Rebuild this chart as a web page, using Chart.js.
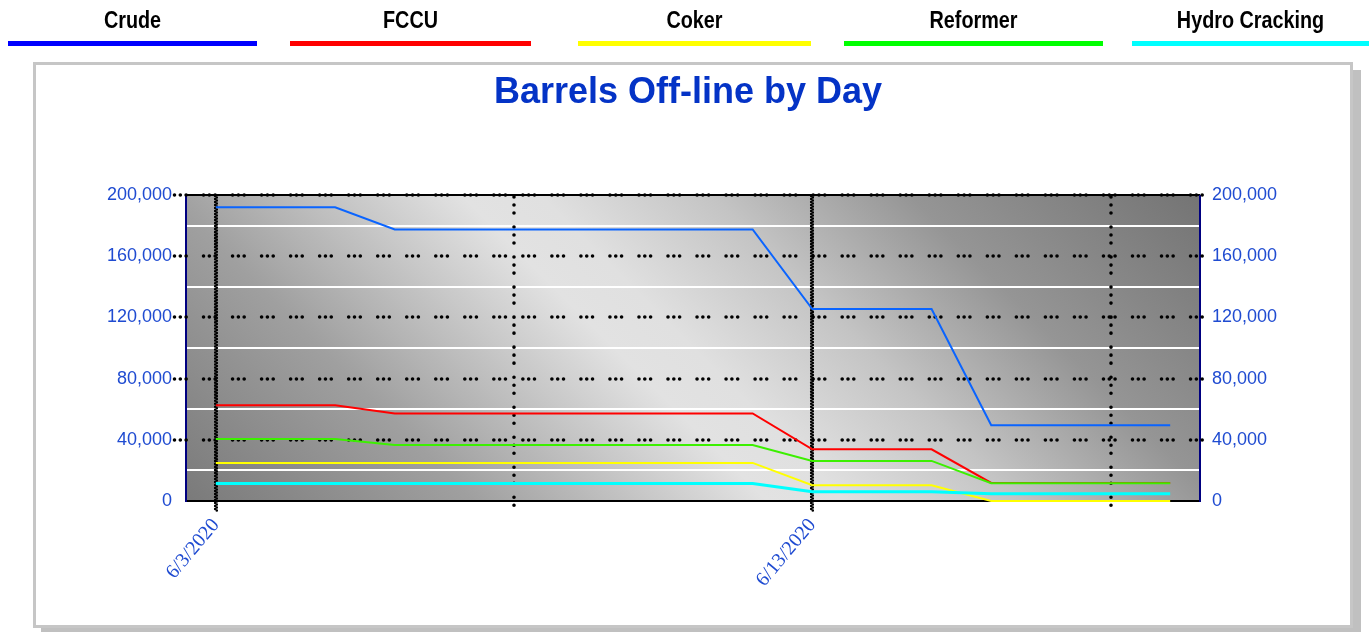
<!DOCTYPE html>
<html>
<head>
<meta charset="utf-8">
<script src="https://cdn.jsdelivr.net/npm/chart.js@4.4.0/dist/chart.umd.min.js"></script>
<style>
  html, body { margin: 0; padding: 0; background: #fff; }
  canvas { display: block; }
</style>
</head>
<body>
<canvas id="chart" width="1369" height="632"></canvas>
<script>
// data
const days = ['6/3/2020', '6/4/2020', '6/5/2020', '6/6/2020', '6/7/2020', '6/8/2020', '6/9/2020',
  '6/10/2020', '6/11/2020', '6/12/2020', '6/13/2020', '6/14/2020', '6/15/2020', '6/16/2020',
  '6/17/2020', '6/18/2020', '6/19/2020'];
const crude    = [192000, 192000, 192000, 177500, 177500, 177500, 177500, 177500, 177500, 177500, 125500, 125500, 125500, 49500, 49500, 49500, 49500];
const fccu     = [62600, 62600, 62600, 57200, 57200, 57200, 57200, 57200, 57200, 57200, 33800, 33800, 33800, 11800, 11800, 11800, 11800];
const coker    = [24900, 24900, 24900, 24900, 24900, 24900, 24900, 24900, 24900, 24900, 10300, 10300, 10300, 0, 0, 0, 0];
const reformer = [40600, 40600, 40600, 36600, 36600, 36600, 36600, 36600, 36600, 36600, 26200, 26200, 26200, 11600, 11600, 11600, 11600];
const hydro    = [11400, 11400, 11400, 11400, 11400, 11400, 11400, 11400, 11400, 11400, 6100, 6100, 6100, 4800, 4800, 4800, 4800];

const seriesNames = ['Crude', 'FCCU', 'Coker', 'Reformer', 'Hydro Cracking'];
const yMax = 200000;
const yStep = 20000;
const yLabelStep = 40000;
const chartTitle = 'Barrels Off-line by Day';

const BLUE_TEXT = '#1f4bd1';
const legendColors = ['#0000ff', '#ff0000', '#ffff00', '#00ff00', '#00ffff'];
const lineColors = ['#0a64ff', '#ff0000', '#ffff00', '#3cf000', '#00ffff'];
const lineWidths = [2, 2, 2, 2, 3];
// legend strip spans under each label
const legendSpans = [[8, 257], [290, 531], [578, 811], [844, 1103], [1132, 1369]];

function fmt(v) {
  return v.toLocaleString('en-US');
}

function dotLine(ctx, x0, y0, x1, y1, dash, width) {
  ctx.save();
  ctx.beginPath();
  ctx.setLineDash(dash);
  ctx.lineCap = 'round';
  ctx.lineWidth = width;
  ctx.strokeStyle = '#000';
  ctx.moveTo(x0, y0);
  ctx.lineTo(x1, y1);
  ctx.stroke();
  ctx.restore();
}

const framePlugin = {
  id: 'frame',
  beforeDraw(chart) {
    const ctx = chart.ctx;
    const a = chart.chartArea;
    ctx.save();
    // shadow + box
    ctx.fillStyle = '#c0c0c0';
    ctx.fillRect(41, 70, 1320, 566);
    ctx.fillStyle = '#fff';
    ctx.fillRect(33, 62, 1320, 566);
    ctx.strokeStyle = '#c6c6c6';
    ctx.lineWidth = 3;
    ctx.strokeRect(34.5, 63.5, 1317, 563);

    // legend
    chart.data.datasets.forEach((ds, i) => {
      const [x0, x1] = legendSpans[i];
      ctx.fillStyle = legendColors[i];
      ctx.fillRect(x0, 41, x1 - x0, 5);
      ctx.save();
      ctx.translate((x0 + x1) / 2, 28);
      ctx.scale(0.86, 1);
      ctx.fillStyle = '#000';
      ctx.font = 'bold 23px "Liberation Sans", Arial, sans-serif';
      ctx.textAlign = 'center';
      ctx.textBaseline = 'alphabetic';
      ctx.fillText(ds.label, 0, 0);
      ctx.restore();
    });

    // title
    ctx.fillStyle = '#0433c6';
    ctx.font = 'bold 36px "Liberation Sans", Arial, sans-serif';
    ctx.textAlign = 'center';
    ctx.textBaseline = 'alphabetic';
    ctx.fillText(chartTitle, 688, 103);

    // plot background
    const w = a.right - a.left;
    const h = a.bottom - a.top;
    const g = ctx.createLinearGradient(a.left, a.bottom, a.left + (w + h) / 2, a.bottom - (w + h) / 2);
    g.addColorStop(0, '#7a7a7a');
    g.addColorStop(0.22, '#a0a0a0');
    g.addColorStop(0.44, '#e2e2e2');
    g.addColorStop(0.5, '#e0e0e0');
    g.addColorStop(0.63, '#c4c4c4');
    g.addColorStop(0.78, '#959595');
    g.addColorStop(1, '#747474');
    ctx.fillStyle = g;
    ctx.fillRect(a.left, a.top, w, h);
    ctx.restore();
  },
  beforeDatasetsDraw(chart) {
    const ctx = chart.ctx;
    const a = chart.chartArea;
    const y = chart.scales.y;
    const x = chart.scales.x;
    ctx.save();
    ctx.lineWidth = 2;
    ctx.strokeStyle = '#000';
    ctx.beginPath();
    ctx.moveTo(a.left, a.top); ctx.lineTo(a.right, a.top);
    ctx.moveTo(a.left, a.bottom); ctx.lineTo(a.right, a.bottom);
    ctx.stroke();
    ctx.strokeStyle = '#000080';
    ctx.beginPath();
    ctx.moveTo(a.left, a.top); ctx.lineTo(a.left, a.bottom + 1);
    ctx.moveTo(a.right, a.top); ctx.lineTo(a.right, a.bottom + 1);
    ctx.stroke();
    ctx.restore();

    for (let v = yLabelStep; v <= yMax; v += yLabelStep) {
      const py = Math.round(y.getPixelForValue(v));
      dotLine(ctx, a.left - 11.5, py, a.right + 14, py, [0.01, 5.8, 0.01, 5.8, 0.01, 17.4], 3.6);
    }
    days.forEach((d, i) => {
      if (i % 5 !== 0) return;
      const px = Math.round(x.getPixelForValue(i));
      if (i % 10 === 0) {
        dotLine(ctx, px - 0.8, a.top + 1, px - 0.8, a.bottom + 10, [0.01, 3], 2.6);
        dotLine(ctx, px + 0.8, a.top + 2.5, px + 0.8, a.bottom + 10, [0.01, 3], 2.6);
      } else {
        dotLine(ctx, px, a.top + 2, px, a.bottom + 8, [0.01, 8, 0.01, 8, 0.01, 14], 3.6);
      }
    });
  }
};

const seriesValues = [crude, fccu, coker, reformer, hydro];

const yTicks = {
  stepSize: yStep,
  color: BLUE_TEXT,
  font: { family: '"Liberation Sans", Arial, sans-serif', size: 18 },
  callback: (v) => (v % yLabelStep === 0 ? fmt(v) : '')
};

new Chart(document.getElementById('chart'), {
  type: 'line',
  data: {
    labels: days,
    datasets: seriesNames.map((name, i) => ({
      label: name,
      data: seriesValues[i],
      borderColor: lineColors[i],
      backgroundColor: lineColors[i],
      borderWidth: lineWidths[i],
      pointRadius: 0,
      tension: 0,
      fill: false,
      clip: false,
      order: seriesNames.length - i,
      yAxisID: 'y'
    }))
  },
  options: {
    responsive: false,
    animation: false,
    devicePixelRatio: 1,
    layout: { padding: { top: 195, left: 0, right: 0, bottom: 0 } },
    plugins: {
      legend: { display: false },
      title: { display: false },
      tooltip: { enabled: false }
    },
    scales: {
      x: {
        type: 'category',
        offset: true,
        grid: { display: false, drawTicks: false },
        border: { display: false },
        ticks: {
          autoSkip: false,
          maxRotation: 50,
          minRotation: 50,
          padding: 13,
          color: BLUE_TEXT,
          font: { family: '"Liberation Serif", "Times New Roman", serif', size: 20 },
          callback: (v, i) => (i % 10 === 0 ? days[i] : '')
        },
        afterFit: (s) => { s.height = 131; }
      },
      y: {
        position: 'left',
        min: 0,
        max: yMax,
        grid: {
          drawTicks: false,
          lineWidth: 2,
          color: (c) => (c.tick && c.tick.value % yLabelStep !== 0 ? '#ffffff' : 'rgba(0,0,0,0)')
        },
        border: { display: false },
        ticks: Object.assign({ padding: 14 }, yTicks),
        afterFit: (s) => { s.width = 186; }
      },
      y1: {
        position: 'right',
        min: 0,
        max: yMax,
        grid: { display: false, drawTicks: false },
        border: { display: false },
        ticks: Object.assign({ padding: 12 }, yTicks),
        afterFit: (s) => { s.width = 169; }
      }
    }
  },
  plugins: [framePlugin]
});
</script>
</body>
</html>
